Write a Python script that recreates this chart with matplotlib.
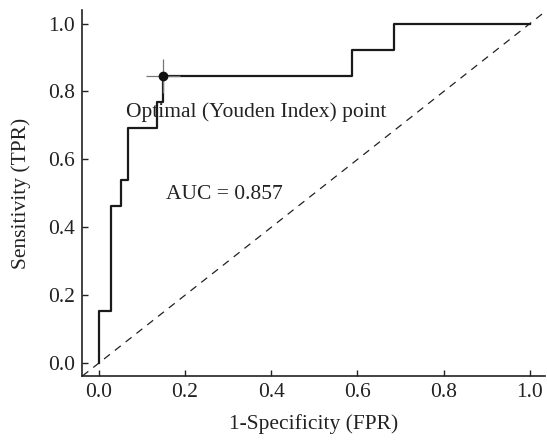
import matplotlib
matplotlib.use("Agg")
import matplotlib.pyplot as plt

# ROC staircase
fpr = [0.0, 0.0, 0.028, 0.028, 0.051, 0.051, 0.067, 0.067, 0.136, 0.136, 0.148, 0.148, 0.588, 0.588, 0.685, 0.685, 1.0]
tpr = [0.0, 0.154, 0.154, 0.462, 0.462, 0.538, 0.538, 0.692, 0.692, 0.769, 0.769, 0.846, 0.846, 0.923, 0.923, 1.0, 1.0]
opt_fpr, opt_tpr = 0.148, 0.846
auc_label = "AUC = 0.857"
opt_label = "Optimal (Youden Index) point"
xticks = [0.0, 0.2, 0.4, 0.6, 0.8, 1.0]
yticks = [0.0, 0.2, 0.4, 0.6, 0.8, 1.0]

plt.rcParams["font.family"] = ["Liberation Serif", "DejaVu Serif"]
plt.rcParams["font.size"] = 15.5

fig = plt.figure(figsize=(5.47, 4.46), dpi=100)
ax = fig.add_axes([82/547, 1-376/446, (545-82)/547, (376-10)/446])

ax.axline((0, 0), (1, 1), color="#222", lw=0.9, ls=(0, (6, 5)))
ax.plot(fpr, tpr, color="#1a1a1a", lw=1.6, zorder=3)
ax.plot([opt_fpr], [opt_tpr], marker="+", ms=24, mew=0.9, color="#777", zorder=4)
ax.plot([opt_fpr], [opt_tpr], marker="o", ms=6, color="#111", zorder=5)
ax.text(0.062, 0.738, opt_label, va="center", ha="left", color="#222")
ax.text(0.155, 0.497, auc_label, va="center", ha="left", color="#222")

ax.set_xlim(-0.039, 1.035)
ax.set_ylim(-0.038, 1.04)
ax.set_xticks(xticks)
ax.set_yticks(yticks)
ax.set_xticklabels([f"{v:.1f}" for v in xticks])
ax.set_yticklabels([f"{v:.1f}" for v in yticks])
ax.tick_params(direction="in", length=4, width=1, colors="#222", pad=5)
for s in ("top", "right"):
    ax.spines[s].set_visible(False)
for s in ("left", "bottom"):
    ax.spines[s].set_linewidth(1.2)
    ax.spines[s].set_color("#222")
ax.set_xlabel("1-Specificity (FPR)", labelpad=9, color="#222")
ax.set_ylabel("Sensitivity (TPR)", labelpad=12, color="#222")

fig.savefig("out.png", dpi=100)
